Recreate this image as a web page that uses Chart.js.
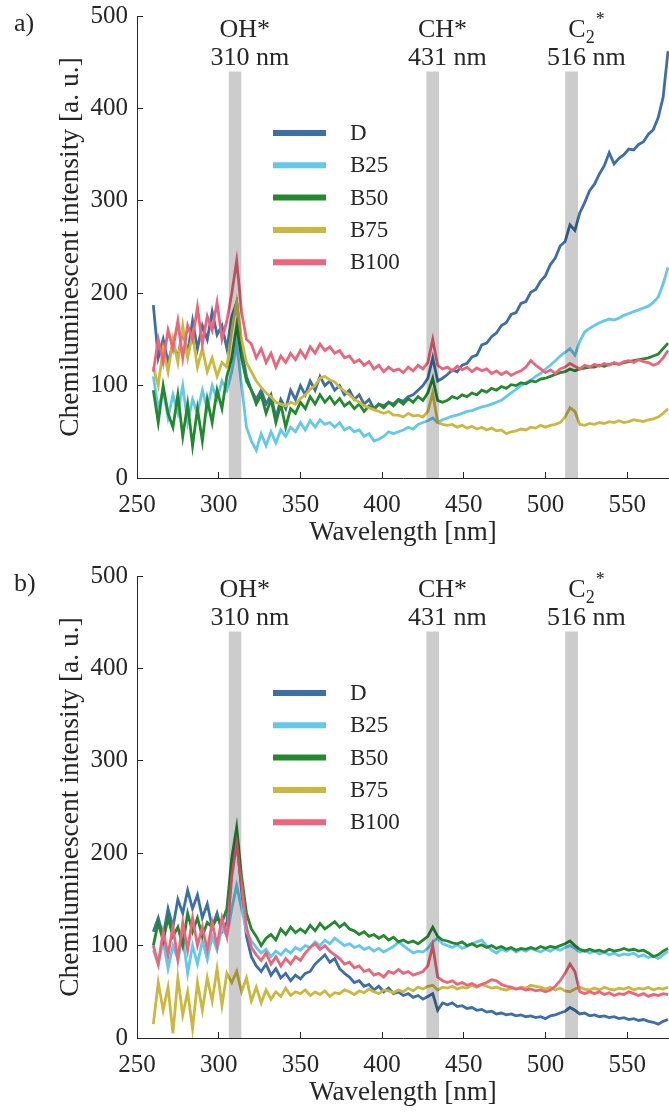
<!DOCTYPE html>
<html>
<head>
<meta charset="utf-8">
<script src="https://cdn.jsdelivr.net/npm/chart.js@4.4.1/dist/chart.umd.min.js"></script>
<style>
  html, body { margin: 0; padding: 0; background: #fff; overflow: hidden; }
  canvas { display: block; }
</style>
</head>
<body>
<canvas id="chartA" width="669" height="560"></canvas>
<canvas id="chartB" width="669" height="560"></canvas>
<script>
// Dalga boyu ekseni [nm]
const wavelength = [
    260, 263, 266, 269, 272, 275, 278, 281, 284, 287,
    290, 293, 296, 299, 302, 305, 308, 311, 314, 317,
    320, 323, 326, 329, 332, 335, 338, 341, 344, 347,
    350, 353, 356, 359, 362, 365, 368, 371, 374, 377,
    380, 383, 386, 389, 392, 395, 398, 401, 404, 407,
    410, 413, 416, 419, 422, 425, 428, 431, 434, 437,
    440, 443, 446, 449, 452, 455, 458, 461, 464, 467,
    470, 473, 476, 479, 482, 485, 488, 491, 494, 497,
    500, 503, 506, 509, 512, 515, 518, 521, 524, 527,
    530, 533, 536, 539, 542, 545, 548, 551, 554, 557,
    560, 563, 566, 569, 572, 575
];

const seriesNames = ['D', 'B25', 'B50', 'B75', 'B100'];
const xTicks = [250, 300, 350, 400, 450, 500, 550];
const yTicks = [0, 100, 200, 300, 400, 500];

// Radikal bantları
const peakNm = [310, 431, 516];
const speciesBase = ['OH', 'CH', 'C'];
const speciesSub = ['', '', '2'];

// Panel a)
const aD = [
    187, 130, 150, 125, 145, 130, 160, 135, 170, 140,
    165, 150, 180, 155, 165, 140, 175, 190, 140, 110,
    95, 85, 95, 80, 90, 65, 85, 75, 95, 85,
    100, 90, 105, 95, 110, 100, 105, 95, 100, 90,
    95, 85, 90, 80, 85, 75, 80, 78, 82, 80,
    85, 83, 88, 90, 95, 100, 108, 130, 105, 108,
    112, 117, 115, 122, 124, 131, 133, 144, 146, 153,
    157, 165, 168, 177, 179, 189, 191, 201, 204, 213,
    219, 231, 238, 251, 256, 274, 268, 287, 298, 311,
    318, 329, 338, 352, 340, 346, 350, 356, 355, 361,
    364, 372, 377, 390, 412, 462
];
const aB25 = [
    110, 75, 95, 65, 90, 70, 100, 60, 85, 70,
    95, 75, 100, 85, 105, 95, 115, 145, 100, 55,
    40, 30, 48, 35, 50, 38, 52, 45, 55, 50,
    60, 52, 62, 55, 63, 58, 60, 55, 60, 52,
    55, 50, 52, 45, 48, 40, 42, 45, 50, 48,
    50, 52, 55, 53, 58, 60, 62, 65, 60, 63,
    65, 67, 68, 70, 72, 73, 75, 77, 78, 80,
    82, 84, 88, 92, 96, 100, 103, 106, 110, 113,
    118, 122, 127, 132, 136, 140, 133, 148, 158, 162,
    165, 168, 170, 172, 171, 173, 176, 178, 180, 182,
    184, 186, 190, 196, 210, 228
];
const aB50 = [
    95, 60, 100, 70, 55, 90, 45, 80, 35, 75,
    40, 85, 60, 95, 75, 110, 130, 165, 130, 105,
    95, 80, 90, 70, 85, 60, 80, 55, 75, 70,
    82, 75, 88, 80, 90, 82, 88, 80, 86, 78,
    82, 75, 80, 72, 78, 74, 80, 76, 82, 78,
    84, 80, 86, 82, 88, 84, 92, 108, 84, 82,
    84, 88, 86, 90, 88, 92, 90, 95, 93, 97,
    95, 99, 97, 101, 100, 103, 102, 105, 104, 107,
    108, 110, 112, 114, 115, 118, 116, 118, 119, 120,
    120, 122, 121, 123, 124, 123, 125, 126, 127, 128,
    129, 130, 132, 134, 140, 146
];
const aB75 = [
    120, 100, 140, 115, 150, 125, 165, 130, 155, 120,
    140, 115, 130, 110, 125, 120, 160, 190, 150, 125,
    115, 105, 98, 92, 88, 82, 80, 78, 82, 80,
    86, 90, 96, 100, 108, 110, 106, 104, 98, 94,
    90, 85, 82, 78, 76, 74, 72, 70, 72, 68,
    68, 66, 70, 67, 68, 66, 72, 92, 60, 58,
    57, 58, 55, 57, 54, 56, 53, 55, 52, 54,
    51, 52, 48, 50, 51, 53, 52, 55, 54, 57,
    55, 57, 58, 60, 66, 76, 72, 58, 57, 59,
    58, 60, 59, 61, 60, 62, 60, 61, 63, 62,
    61, 63, 64, 66, 70, 75
];
const aB100 = [
    115, 150, 125, 160, 140, 170, 130, 165, 150, 185,
    145, 175, 160, 190, 150, 170, 200, 235, 180, 150,
    145, 130, 140, 125, 135, 120, 132, 125, 135, 128,
    138, 130, 142, 135, 145, 138, 142, 135, 138, 130,
    132, 125, 128, 122, 126, 118, 122, 115, 120, 116,
    118, 114, 120, 116, 122, 118, 125, 150, 122, 118,
    120, 116, 121, 117, 120, 115, 119, 116, 118, 113,
    116, 112, 115, 111, 114, 116, 120, 127, 122, 118,
    114, 117, 113, 118, 120, 124, 121, 118, 122, 120,
    123, 121, 124, 122, 125, 123, 126, 127, 125, 128,
    126, 125, 122, 124, 130, 138
];

// Panel b)
const bD = [
    115, 130, 110, 140, 120, 150, 135, 160, 140, 155,
    130, 145, 120, 135, 115, 125, 180, 215, 160, 110,
    88, 78, 72, 80, 68, 75, 65, 70, 62, 68,
    64, 70, 72, 80, 85, 90, 82, 86, 75, 70,
    66, 60, 62, 56, 58, 52, 56, 50, 54, 48,
    50, 46, 48, 44, 46, 42, 45, 48, 30, 38,
    36, 38, 34, 35, 32, 33, 30, 31, 28, 29,
    26, 27, 25, 26, 24, 25, 23, 24, 22, 23,
    21, 24, 25, 27, 29, 33, 30, 26, 27, 24,
    25, 23, 24, 22, 23, 21, 22, 20, 21, 19,
    20, 18, 17, 15, 18, 20
];
const bB25 = [
    95, 80, 105, 75, 100, 85, 110, 70, 100, 80,
    105, 85, 110, 95, 120, 110, 140, 165, 140, 115,
    105, 98, 92, 96, 88, 94, 90, 96, 92, 98,
    95, 100, 98, 104, 100, 106, 102, 108, 104, 100,
    102, 98, 100, 96, 98, 94, 97, 93, 96, 99,
    104, 100, 96, 92, 94, 93, 97, 104, 108, 102,
    100, 98, 101, 97, 99, 102, 104, 106, 100, 95,
    92, 96, 94, 97, 93, 96, 94, 97, 95, 93,
    96, 94, 97, 95, 98, 100, 97, 93, 95, 92,
    94, 91, 93, 90, 92, 89, 91, 90, 92, 88,
    90, 87, 89, 86, 90, 94
];
const bB50 = [
    100, 125, 105, 130, 110, 120, 100, 135, 115, 130,
    110, 125, 120, 130, 125, 140, 195, 228, 175, 135,
    118, 110, 100, 108, 112, 106, 118, 112, 120, 114,
    118, 114, 122, 116, 124, 118, 122, 126, 120, 124,
    118, 116, 112, 115, 110, 112, 108, 111, 106, 109,
    104, 106, 103, 105, 102, 106, 110, 120, 110, 106,
    105, 103, 102, 104, 100, 102, 99, 101, 98, 100,
    97, 99, 96, 98, 95, 97, 96, 98, 96, 99,
    97, 99, 98, 100, 102, 105, 100, 96, 94, 96,
    94, 95, 93, 96, 94, 95, 97, 95, 96, 94,
    95, 92, 88, 90, 94, 97
];
const bB75 = [
    15, 60, 30, 55, 5, 65, 25, 50, 10, 60,
    30, 65, 40, 75, 35, 70, 60, 72, 50, 65,
    40, 55, 38, 52, 42, 50, 45, 54, 46, 50,
    48, 52, 46, 50, 47, 51, 45, 49, 48, 52,
    50, 47, 51, 49, 53, 50, 48, 52, 51, 49,
    52, 50, 54, 51, 55, 53, 56, 57, 52, 55,
    54, 56, 53, 55, 54, 57, 55, 58, 56, 54,
    55, 53, 52, 54, 53, 55, 54, 57, 56, 55,
    53, 55, 52, 54, 51, 50, 53, 55, 53, 52,
    54, 52, 55, 53, 52, 54, 53, 55, 52, 54,
    53, 55, 52, 54, 53, 55
];
const bB100 = [
    100, 80, 115, 90, 120, 85, 125, 95, 130, 100,
    120, 95, 125, 100, 130, 110, 175, 210, 165, 120,
    98, 90, 84, 92, 80, 88, 78, 86, 80, 88,
    84, 92, 98, 102, 96, 100, 94, 90, 86, 80,
    82, 76, 78, 72, 74, 68, 70, 66, 72, 70,
    74, 70, 72, 68, 70, 72, 78, 100, 66, 62,
    60, 62, 58, 60, 57, 59, 56, 58, 60, 63,
    62, 58, 56, 55, 53, 54, 52, 53, 51, 52,
    50, 52, 56, 62, 70, 80, 72, 50, 48, 50,
    48, 50, 47, 49, 46, 48, 47, 50, 48, 46,
    48, 45, 47, 46, 48, 47
];

const seriesColors = ['#3c6ea7', '#62c8ec', '#22892f', '#cdb83f', '#ee6479'];
const bandColor = 'rgba(0, 0, 0, 0.2)';
const textColor = '#262626';
const serif = '"Liberation Serif", "Times New Roman", serif';

// Bant etiketleri, lejant ve panel harfi
const annotate = {
    id: 'annotate',
    afterDatasetsDraw(chart, args, opts) {
        const { ctx, chartArea } = chart;
        const x = chart.scales.x;
        ctx.save();
        ctx.fillStyle = textColor;
        ctx.textBaseline = 'alphabetic';

        peakNm.forEach((nm, i) => {
            const px = x.getPixelForValue(nm + 9);
            ctx.textAlign = 'center';
            ctx.font = '26px ' + serif;
            if (speciesSub[i]) {
                ctx.textAlign = 'left';
                const wBase = ctx.measureText(speciesBase[i]).width;
                const start = px - 18;
                ctx.fillText(speciesBase[i], start, chartArea.top + 21);
                ctx.font = '18px ' + serif;
                ctx.fillText(speciesSub[i], start + wBase, chartArea.top + 27);
                ctx.fillText('*', start + wBase + 10, chartArea.top + 9);
            } else {
                ctx.fillText(speciesBase[i] + '*', px - 5, chartArea.top + 21);
            }
            ctx.font = '26px ' + serif;
            ctx.textAlign = 'center';
            ctx.fillText(nm + ' nm', px, chartArea.top + 49);
        });

        // Lejant
        ctx.font = '23px ' + serif;
        ctx.textAlign = 'left';
        ctx.textBaseline = 'middle';
        seriesNames.forEach((name, i) => {
            const ly = chartArea.top + 117 + i * 32.3;
            ctx.strokeStyle = seriesColors[i];
            ctx.lineWidth = 6;
            ctx.beginPath();
            ctx.moveTo(273, ly);
            ctx.lineTo(326, ly);
            ctx.stroke();
            ctx.fillText(name, 350, ly + 1);
        });

        ctx.font = '26px ' + serif;
        ctx.textBaseline = 'alphabetic';
        ctx.fillText(opts.letter, 14, 31);
        ctx.restore();
    }
};

function buildDatasets(series) {
    const lines = series.map((vals, i) => ({
        label: seriesNames[i],
        data: wavelength.map((w, j) => ({ x: w, y: vals[j] })),
        borderColor: seriesColors[i],
        borderWidth: 2.8,
        pointRadius: 0,
        fill: false,
        tension: 0,
        order: 10 - i
    }));
    const bands = peakNm.map(nm => ({
        label: 'band' + nm,
        data: [{ x: nm - 4, y: 440 }, { x: nm + 4, y: 440 }],
        borderWidth: 0,
        pointRadius: 0,
        backgroundColor: bandColor,
        fill: 'origin',
        order: 0
    }));
    return [...lines, ...bands];
}

function makeChart(id, letter, series) {
    const ctx = document.getElementById(id).getContext('2d');
    return new Chart(ctx, {
        type: 'line',
        data: { datasets: buildDatasets(series) },
        options: {
            responsive: false,
            animation: false,
            devicePixelRatio: 1,
            events: [],
            layout: { padding: { top: 16, left: 0, right: 0, bottom: 0 } },
            plugins: {
                legend: { display: false },
                tooltip: { enabled: false },
                annotate: { letter: letter }
            },
            scales: {
                x: {
                    type: 'linear',
                    min: 250,
                    max: 575.6,
                    afterFit(scale) {
                        scale.height = 82;
                        scale.paddingLeft = 0;
                        scale.paddingRight = 0;
                    },
                    afterBuildTicks(scale) { scale.ticks = xTicks.map(v => ({ value: v })); },
                    ticks: { font: { family: serif, size: 25 }, color: textColor, padding: 18, maxRotation: 0 },
                    grid: { drawOnChartArea: false, drawTicks: true, tickLength: -6, color: textColor },
                    border: { display: true, color: textColor, width: 1 },
                    title: {
                        display: true,
                        text: 'Wavelength [nm]',
                        font: { family: serif, size: 27 },
                        color: textColor,
                        padding: { top: 0, bottom: 11 }
                    }
                },
                y: {
                    min: 0,
                    max: 500,
                    afterFit(scale) {
                        scale.width = 137;
                        scale.paddingTop = 0;
                        scale.paddingBottom = 0;
                    },
                    afterBuildTicks(scale) { scale.ticks = yTicks.map(v => ({ value: v })); },
                    ticks: { font: { family: serif, size: 25 }, color: textColor, padding: 15 },
                    grid: { drawOnChartArea: false, drawTicks: true, tickLength: -6, color: textColor },
                    border: { display: true, color: textColor, width: 1 },
                    title: {
                        display: true,
                        text: 'Chemiluminescent intensity [a. u.]',
                        font: { family: serif, size: 27.5 },
                        color: textColor,
                        padding: { top: 54, bottom: 0 }
                    }
                }
            }
        },
        plugins: [annotate]
    });
}

document.addEventListener('DOMContentLoaded', () => {
    makeChart('chartA', 'a)', [aD, aB25, aB50, aB75, aB100]);
    makeChart('chartB', 'b)', [bD, bB25, bB50, bB75, bB100]);
});
</script>
</body>
</html>
